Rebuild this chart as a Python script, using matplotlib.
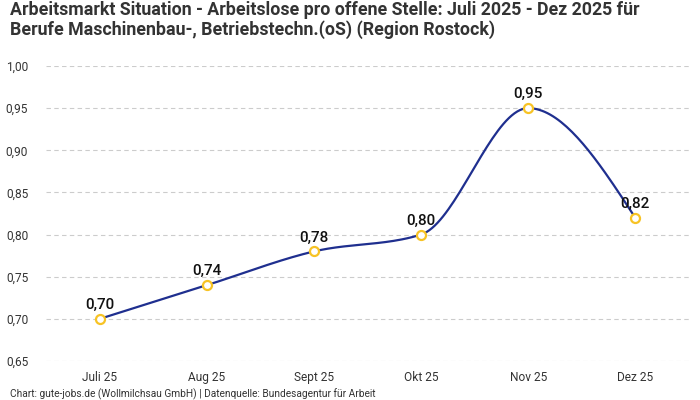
import matplotlib.pyplot as plt
import numpy as np

months = ['Juli 25', 'Aug 25', 'Sept 25', 'Okt 25', 'Nov 25', 'Dez 25']
werte = [0.70, 0.74, 0.78, 0.80, 0.95, 0.82]
yticks = [0.65, 0.70, 0.75, 0.80, 0.85, 0.90, 0.95, 1.00]

plt.rcParams['font.family'] = ['Roboto', 'DejaVu Sans']


def fmt(v):
    return f'{v:.2f}'.replace('.', ',')


# monotone kurve (wie d3 curveMonotoneX)
def monotone(x, y, n=40):
    x = np.asarray(x, float)
    y = np.asarray(y, float)
    h = np.diff(x)
    s = np.diff(y) / h
    t = np.zeros(len(x))
    for i in range(1, len(x) - 1):
        p = (s[i - 1] * h[i] + s[i] * h[i - 1]) / (h[i - 1] + h[i])
        t[i] = (np.sign(s[i - 1]) + np.sign(s[i])) * min(abs(s[i - 1]), abs(s[i]), 0.5 * abs(p))
    t[0] = (3 * s[0] - t[1]) / 2
    t[-1] = (3 * s[-1] - t[-2]) / 2
    xs, ys = [], []
    for i in range(len(x) - 1):
        u = np.linspace(0, 1, n)
        h00 = 2 * u**3 - 3 * u**2 + 1
        h10 = u**3 - 2 * u**2 + u
        h01 = -2 * u**3 + 3 * u**2
        h11 = u**3 - u**2
        xs.extend(x[i] + u * h[i])
        ys.extend(h00 * y[i] + h10 * h[i] * t[i] + h01 * y[i + 1] + h11 * h[i] * t[i + 1])
    return np.array(xs), np.array(ys)


pos = np.arange(len(months))
fig = plt.figure(figsize=(7, 4), dpi=100)
ax = fig.add_axes([0.066, 0.0975, 0.918, 0.7375])

kx, ky = monotone(pos, werte)
ax.plot(kx, ky, color='#1f2f8f', linewidth=1.6, zorder=2)
ax.plot(pos, werte, 'o', markersize=6.5, markerfacecolor='white',
        markeredgecolor='#f7c325', markeredgewidth=1.6, zorder=3)

for p, v in zip(pos, werte):
    ax.annotate(fmt(v), (p, v), xytext=(0, 5), textcoords='offset points',
                ha='center', va='bottom', fontsize=11, fontweight='medium', color='#111111')

ax.set_xlim(-0.5, len(months) - 0.5)
ax.set_ylim(0.65, 1.00)
ax.set_xticks(pos)
ax.set_xticklabels(months)
ax.set_yticks(yticks)
ax.set_yticklabels([fmt(v) for v in yticks])
ax.tick_params(length=0, labelsize=8.6, colors='#333333', pad=7)
ax.tick_params(axis='y', pad=13)
ax.grid(axis='y', linestyle=(0, (4, 3)), color='#cccccc', linewidth=0.8)
ax.set_axisbelow(True)
for sp in ax.spines.values():
    sp.set_visible(False)

fig.text(0.014, 0.997, 'Arbeitsmarkt Situation - Arbeitslose pro offene Stelle: Juli 2025 - Dez 2025 für\n'
         'Berufe Maschinenbau-, Betriebstechn.(oS) (Region Rostock)',
         ha='left', va='top', fontsize=12.8, fontweight='bold', color='#333333', linespacing=1.05)
fig.text(0.014, 0.0, 'Chart: gute-jobs.de (Wollmilchsau GmbH) | Datenquelle: Bundesagentur für Arbeit',
         ha='left', va='bottom', fontsize=7.3, color='#333333')

plt.savefig('out.png', dpi=100)
